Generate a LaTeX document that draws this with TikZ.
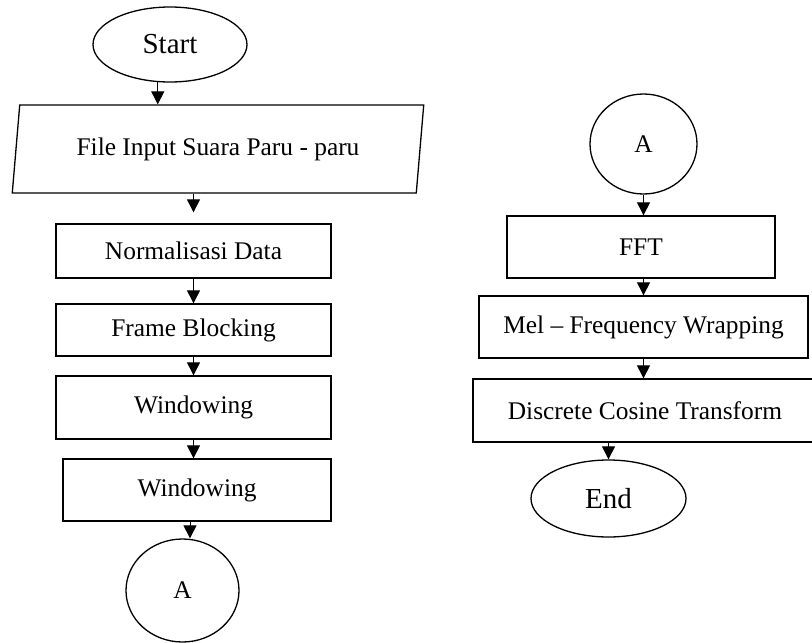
\documentclass[tikz,border=0pt]{standalone}
\usepackage{fontspec}
\setmainfont{Liberation Serif}
\usetikzlibrary{shapes.geometric, arrows.meta}

\begin{document}
\begin{tikzpicture}[x=1pt, y=-1pt,
    box/.style={draw, line width=1.3pt, rectangle, inner sep=0pt, font=\fontsize{25.4}{30}\selectfont},
    term/.style={draw, line width=1.3pt, ellipse, inner sep=0pt, font=\fontsize{29}{34}\selectfont},
    conn/.style={draw, line width=1.3pt, ellipse, inner sep=0pt, font=\fontsize{25.4}{30}\selectfont},
    io/.style={draw, line width=1.3pt, trapezium, trapezium left angle=77, trapezium right angle=103,
        trapezium stretches=true, inner sep=0pt, font=\fontsize{25.4}{30}\selectfont},
    arr/.style={line width=1pt, -{Triangle[width=13pt, length=13pt]}}]
    \useasboundingbox (0,0) rectangle (812,643);
    % Left column
    \node[term, minimum width=154pt, minimum height=75pt] (start) at (170,44.5) {Start};
    \node[io, minimum width=412pt, minimum height=88pt] (input) at (218,149) {File Input Suara Paru - paru};
    \node[box, minimum width=275pt, minimum height=54pt] (norm) at (193.5,251) {Normalisasi Data};
    \node[box, minimum width=275pt, minimum height=52pt] (frame) at (193.5,330) {Frame Blocking};
    \node[box, minimum width=275pt, minimum height=63pt] (win1) at (193.5,407.5) {Windowing};
    \node[box, minimum width=268pt, minimum height=62pt] (win2) at (197,490) {Windowing};
    \node[conn, minimum width=113pt, minimum height=103pt] (conA) at (182.5,590.5) {A};
    % Right column
    \node[conn, minimum width=107pt, minimum height=100pt] (conB) at (643.5,144) {A};
    \node[box, minimum width=268pt, minimum height=62pt] (fft) at (641,247) {FFT};
    \node[box, minimum width=329pt, minimum height=62pt] (mel) at (643.5,327) {Mel -- Frequency Wrapping};
    \node[box, minimum width=344pt, minimum height=63pt] (dct) at (645,410.5) {Discrete Cosine Transform};
    \node[term, minimum width=155pt, minimum height=77pt] (end) at (608.5,498.5) {End};
    % Arrows
    \draw[arr] (start.252) -- (start.252 |- input.north);
    \draw[arr, shorten >=11pt] (input.south -| norm.north) -- (norm.north);
    \draw[arr] (norm) -- (frame);
    \draw[arr] (frame) -- (win1);
    \draw[arr] (win1.south) -- (win1.south |- win2.north);
    \draw[arr] ([xshift=-7pt]win2.south) -- ([xshift=-7pt]win2.south |- conA.north);
    \draw[arr] (conB.south) -- (conB.south |- fft.north);
    \draw[arr] (fft.south -| mel.north) -- (mel.north);
    \draw[arr] (mel.south) -- (mel.south |- dct.north);
    \draw[arr] (end.north |- dct.south) -- (end.north);
\end{tikzpicture}
\end{document}
